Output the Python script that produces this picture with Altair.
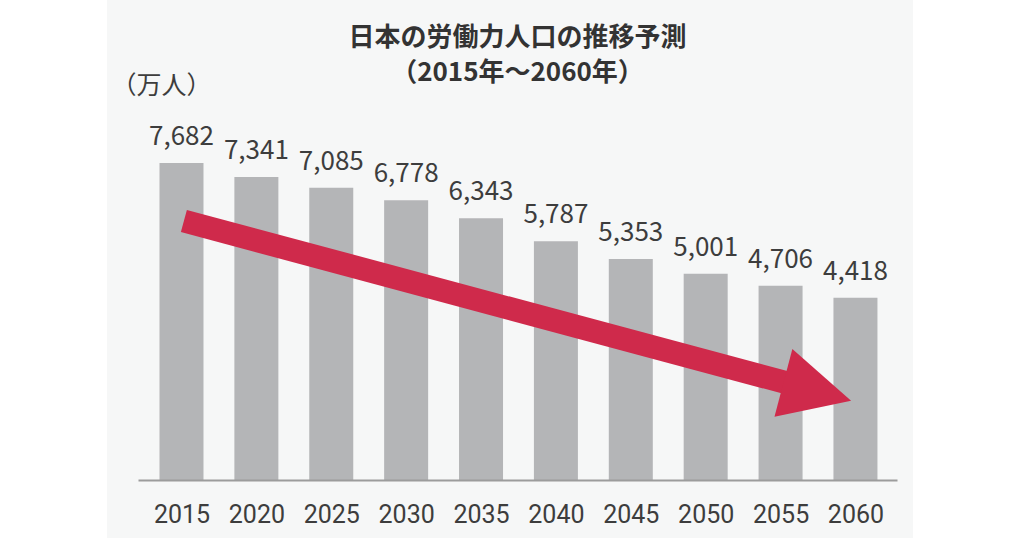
import altair as alt
import pandas as pd

# ---- data ----
years = [2015, 2020, 2025, 2030, 2035, 2040, 2045, 2050, 2055, 2060]
workforce = [7682, 7341, 7085, 6778, 6343, 5787, 5353, 5001, 4706, 4418]

title_lines = ["日本の労働力人口の推移予測", "（2015年～2060年）"]
unit_label = "（万人）"

# trend arrow (in data units: year, 万人)
arrow_start = [2015.16, 6277]
arrow_end = [2056.0, 2297]
arrow_head = [2057.45, 2139]

df = pd.DataFrame({"year": years, "value": workforce})
shaft_df = pd.DataFrame({"x": [arrow_start[0]], "y": [arrow_start[1]],
                         "x2": [arrow_end[0]], "y2": [arrow_end[1]]})
head_df = pd.DataFrame({"x": [arrow_head[0]], "y": [arrow_head[1]]})
one = pd.DataFrame({"k": [0]})

BAR = "#b4b5b7"
RED = "#cf2a4b"
TXT = "#3d3d3d"
PANEL = "#f6f7f7"

xscale = alt.Scale(domain=[2012.43, 2062.44], nice=False, zero=False)
yscale = alt.Scale(domain=[0, 9209], nice=False)

panel = alt.Chart(one).mark_rect(color=PANEL).encode(
    x=alt.value(-31), x2=alt.value(775), y=alt.value(-100), y2=alt.value(438)
)

bars = alt.Chart(df).mark_bar(size=44, color=BAR).encode(
    x=alt.X("year:Q", scale=xscale,
            axis=alt.Axis(values=years, format="d", title=None, grid=False,
                          ticks=False, tickSize=0, labelFlush=False,
                          labelOverlap=False, labelBound=False,
                          labelFont="Roboto", labelFontSize=25,
                          labelColor=TXT, labelBaseline="alphabetic",
                          labelPadding=42, domainColor="#9c9c9c",
                          domainWidth=2, zindex=2)),
    y=alt.Y("value:Q", scale=yscale,
            axis=alt.Axis(labels=False, ticks=False, domain=False, grid=False,
                          title=unit_label, titleAngle=0, titleAlign="left",
                          titleBaseline="alphabetic", titleX=-27, titleY=-7,
                          titleFont="Noto Sans CJK JP", titleFontSize=25,
                          titleFontWeight="normal", titleColor=TXT, zindex=2)),
)

labels = alt.Chart(df).mark_text(
    font="Noto Sans CJK JP", fontSize=26, color=TXT, baseline="alphabetic",
    dy=-18
).encode(
    x="year:Q", y="value:Q", text=alt.Text("value:Q", format=",")
)

shaft = alt.Chart(shaft_df).mark_rule(color=RED, strokeWidth=23, strokeCap="butt").encode(
    x="x:Q", y="y:Q", x2="x2:Q", y2="y2:Q"
)

head = alt.Chart(head_df).mark_point(
    shape="M-1,-1L1,0L-1,1Z", size=4900, filled=True, color=RED,
    opacity=1, strokeWidth=0, angle=14.8
).encode(x="x:Q", y="y:Q")

chart = alt.layer(panel, bars, labels, shaft, head).properties(
    width=759, height=380,
    padding={"left": 138, "top": 100, "right": 127, "bottom": 58},
    autosize="none",
    background="white",
    title=alt.TitleParams(text=title_lines, font="Noto Sans CJK JP",
                          fontSize=26, fontWeight="bold", color="#333333",
                          lineHeight=35, anchor="middle", offset=10, dy=96),
).configure_view(strokeWidth=0)

chart.save("out.html", embed_options={"renderer": "svg", "actions": False})
